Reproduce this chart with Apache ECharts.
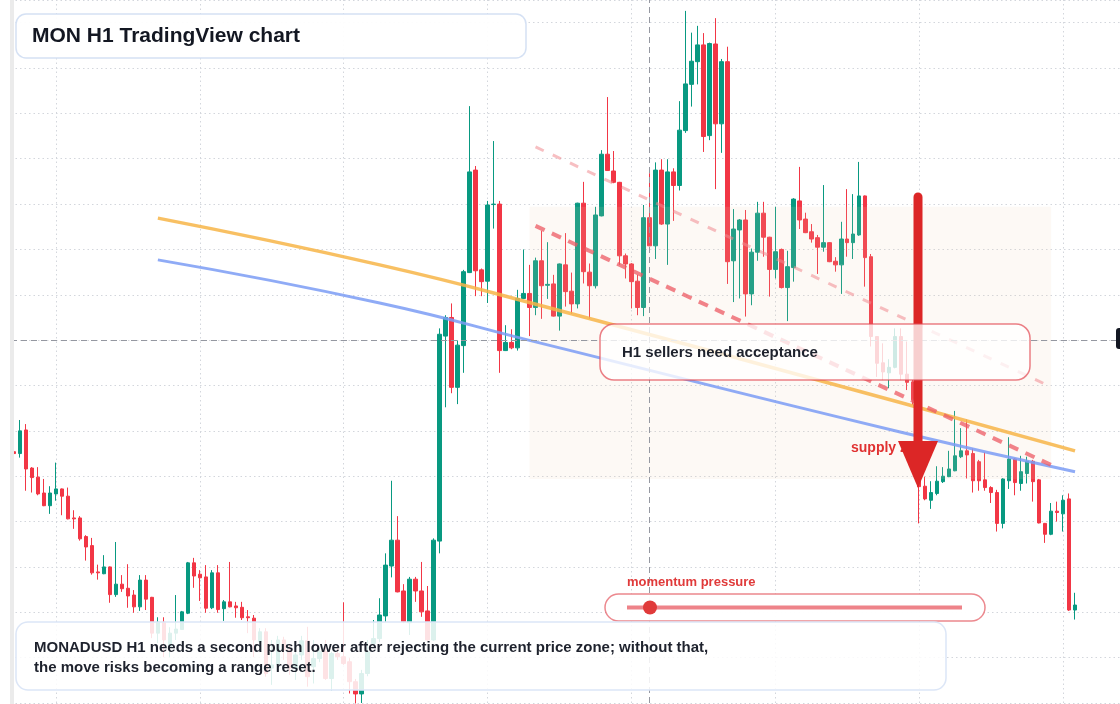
<!DOCTYPE html>
<html>
<head>
<meta charset="utf-8">
<title>MON H1 TradingView chart</title>
<script src="https://cdn.jsdelivr.net/npm/echarts@6/dist/echarts.min.js"></script>
<style>
html, body { margin: 0; padding: 0; background: #fff; }
#main { width: 1120px; height: 704px; }
</style>
</head>
<body>
<div id="main"></div>
<script>
// MONADUSD H1 candles (price in USD)
var opens = [
  0.02754, 0.02750, 0.02802, 0.02718, 0.02698, 0.02663, 0.02635, 0.02661, 0.02672, 0.02656,
  0.02608, 0.02608, 0.02567, 0.02547, 0.02489, 0.02485, 0.02500, 0.02439, 0.02462, 0.02453,
  0.02438, 0.02412, 0.02471, 0.02433, 0.02354, 0.02378, 0.02323, 0.02354, 0.02362, 0.02398,
  0.02509, 0.02484, 0.02478, 0.02410, 0.02487, 0.02408, 0.02423, 0.02414, 0.02411, 0.02390,
  0.02387, 0.02335, 0.02357, 0.02277, 0.02284, 0.02339, 0.02317, 0.02277, 0.02306, 0.02337,
  0.02280, 0.02298, 0.02313, 0.02254, 0.02309, 0.02302, 0.02291, 0.02247, 0.02220, 0.02265,
  0.02331, 0.02342, 0.02392, 0.02502, 0.02559, 0.02447, 0.02377, 0.02473, 0.02447, 0.02403,
  0.02339, 0.02557, 0.03009, 0.03050, 0.02896, 0.02988, 0.03149, 0.03375, 0.03155, 0.03130,
  0.03299, 0.03300, 0.02977, 0.02995, 0.02983, 0.03092, 0.03103, 0.03072, 0.03175, 0.03121,
  0.03124, 0.03053, 0.03166, 0.03108, 0.03080, 0.03302, 0.03150, 0.03120, 0.03274, 0.03410,
  0.03373, 0.03348, 0.03186, 0.03168, 0.03130, 0.03072, 0.03270, 0.03208, 0.03375, 0.03256,
  0.03371, 0.03341, 0.03462, 0.03564, 0.03614, 0.03651, 0.03451, 0.03653, 0.03477, 0.03614,
  0.03175, 0.03243, 0.03265, 0.03102, 0.03194, 0.03280, 0.03227, 0.03156, 0.03200, 0.03116,
  0.03160, 0.03307, 0.03267, 0.03239, 0.03226, 0.03205, 0.03215, 0.03174, 0.03166, 0.03223,
  0.03215, 0.03232, 0.03318, 0.03184, 0.03008, 0.02950, 0.02928, 0.02940, 0.03008, 0.02925,
  0.02908, 0.02868, 0.02678, 0.02647, 0.02662, 0.02688, 0.02699, 0.02712, 0.02743, 0.02756,
  0.02750, 0.02732, 0.02692, 0.02675, 0.02664, 0.02596, 0.02690, 0.02738, 0.02684, 0.02706,
  0.02733, 0.02692, 0.02596, 0.02572, 0.02623, 0.02617, 0.02650, 0.02405
];
var closes = [
  0.02750, 0.02800, 0.02716, 0.02697, 0.02661, 0.02635, 0.02663, 0.02672, 0.02656, 0.02606,
  0.02606, 0.02562, 0.02544, 0.02487, 0.02487, 0.02500, 0.02439, 0.02462, 0.02452, 0.02436,
  0.02412, 0.02471, 0.02429, 0.02354, 0.02378, 0.02339, 0.02354, 0.02363, 0.02401, 0.02509,
  0.02480, 0.02476, 0.02409, 0.02487, 0.02406, 0.02423, 0.02412, 0.02410, 0.02388, 0.02388,
  0.02339, 0.02357, 0.02265, 0.02284, 0.02339, 0.02317, 0.02277, 0.02306, 0.02337, 0.02258,
  0.02298, 0.02313, 0.02254, 0.02309, 0.02302, 0.02287, 0.02247, 0.02220, 0.02265, 0.02313,
  0.02342, 0.02394, 0.02504, 0.02559, 0.02445, 0.02379, 0.02473, 0.02447, 0.02401, 0.02339,
  0.02559, 0.03013, 0.03050, 0.02896, 0.02989, 0.03151, 0.03371, 0.03153, 0.03129, 0.03298,
  0.03300, 0.02977, 0.02995, 0.02983, 0.03092, 0.03103, 0.03072, 0.03175, 0.03120, 0.03123,
  0.03053, 0.03168, 0.03107, 0.03080, 0.03302, 0.03151, 0.03120, 0.03276, 0.03410, 0.03374,
  0.03348, 0.03186, 0.03168, 0.03129, 0.03072, 0.03270, 0.03208, 0.03375, 0.03256, 0.03371,
  0.03341, 0.03463, 0.03565, 0.03615, 0.03651, 0.03449, 0.03654, 0.03477, 0.03614, 0.03173,
  0.03245, 0.03265, 0.03102, 0.03194, 0.03280, 0.03227, 0.03156, 0.03195, 0.03116, 0.03162,
  0.03311, 0.03265, 0.03237, 0.03223, 0.03205, 0.03215, 0.03173, 0.03166, 0.03223, 0.03215,
  0.03234, 0.03318, 0.03182, 0.03008, 0.02949, 0.02930, 0.02940, 0.03008, 0.02925, 0.02907,
  0.02868, 0.02677, 0.02650, 0.02664, 0.02689, 0.02700, 0.02716, 0.02745, 0.02756, 0.02747,
  0.02690, 0.02690, 0.02675, 0.02664, 0.02596, 0.02694, 0.02738, 0.02686, 0.02710, 0.02733,
  0.02688, 0.02597, 0.02572, 0.02623, 0.02620, 0.02647, 0.02405, 0.02416
];
var lows = [
  0.02749, 0.02741, 0.02668, 0.02664, 0.02658, 0.02634, 0.02617, 0.02646, 0.02614, 0.02605,
  0.02584, 0.02558, 0.02514, 0.02483, 0.02472, 0.02484, 0.02421, 0.02434, 0.02445, 0.02410,
  0.02399, 0.02403, 0.02405, 0.02343, 0.02332, 0.02301, 0.02301, 0.02339, 0.02361, 0.02396,
  0.02454, 0.02425, 0.02399, 0.02407, 0.02399, 0.02381, 0.02411, 0.02388, 0.02383, 0.02354,
  0.02301, 0.02321, 0.02258, 0.02240, 0.02277, 0.02295, 0.02262, 0.02251, 0.02295, 0.02236,
  0.02243, 0.02290, 0.02251, 0.02228, 0.02295, 0.02284, 0.02221, 0.02199, 0.02200, 0.02259,
  0.02321, 0.02334, 0.02379, 0.02477, 0.02444, 0.02376, 0.02350, 0.02423, 0.02390, 0.02337,
  0.02337, 0.02530, 0.02852, 0.02883, 0.02859, 0.02928, 0.03148, 0.03097, 0.03097, 0.03082,
  0.03246, 0.02928, 0.02976, 0.02980, 0.02977, 0.03091, 0.03009, 0.03055, 0.03047, 0.03091,
  0.03052, 0.03021, 0.03074, 0.03058, 0.03070, 0.03125, 0.03047, 0.03114, 0.03273, 0.03373,
  0.03346, 0.03166, 0.03136, 0.03070, 0.03055, 0.03053, 0.03207, 0.03179, 0.03254, 0.03166,
  0.03263, 0.03330, 0.03457, 0.03515, 0.03564, 0.03415, 0.03441, 0.03333, 0.03413, 0.03124,
  0.03084, 0.03092, 0.03052, 0.03077, 0.03175, 0.03184, 0.03096, 0.03136, 0.03114, 0.03042,
  0.03129, 0.03245, 0.03236, 0.03215, 0.03146, 0.03195, 0.03172, 0.03151, 0.03102, 0.03184,
  0.03179, 0.03230, 0.03118, 0.02986, 0.02919, 0.02912, 0.02894, 0.02938, 0.02912, 0.02890,
  0.02857, 0.02596, 0.02647, 0.02628, 0.02658, 0.02685, 0.02698, 0.02711, 0.02740, 0.02695,
  0.02664, 0.02668, 0.02668, 0.02641, 0.02578, 0.02585, 0.02672, 0.02658, 0.02668, 0.02684,
  0.02644, 0.02596, 0.02553, 0.02570, 0.02600, 0.02578, 0.02403, 0.02384
];
var highs = [
  0.02755, 0.02824, 0.02815, 0.02720, 0.02720, 0.02694, 0.02678, 0.02730, 0.02673, 0.02675,
  0.02625, 0.02612, 0.02570, 0.02564, 0.02505, 0.02526, 0.02501, 0.02555, 0.02482, 0.02506,
  0.02449, 0.02482, 0.02482, 0.02434, 0.02389, 0.02389, 0.02367, 0.02438, 0.02403, 0.02511,
  0.02520, 0.02493, 0.02504, 0.02493, 0.02504, 0.02427, 0.02511, 0.02423, 0.02423, 0.02405,
  0.02394, 0.02365, 0.02365, 0.02339, 0.02348, 0.02346, 0.02328, 0.02321, 0.02348, 0.02368,
  0.02339, 0.02321, 0.02339, 0.02313, 0.02321, 0.02422, 0.02299, 0.02253, 0.02273, 0.02339,
  0.02383, 0.02431, 0.02530, 0.02690, 0.02612, 0.02462, 0.02478, 0.02478, 0.02511, 0.02458,
  0.02563, 0.03026, 0.03055, 0.03081, 0.02999, 0.03155, 0.03516, 0.03384, 0.03158, 0.03307,
  0.03439, 0.03307, 0.03033, 0.03024, 0.03111, 0.03200, 0.03166, 0.03182, 0.03241, 0.03216,
  0.03144, 0.03169, 0.03236, 0.03149, 0.03303, 0.03349, 0.03169, 0.03294, 0.03419, 0.03536,
  0.03417, 0.03349, 0.03191, 0.03170, 0.03144, 0.03298, 0.03368, 0.03392, 0.03399, 0.03399,
  0.03379, 0.03527, 0.03726, 0.03678, 0.03693, 0.03677, 0.03656, 0.03710, 0.03620, 0.03647,
  0.03289, 0.03267, 0.03287, 0.03202, 0.03305, 0.03305, 0.03228, 0.03294, 0.03202, 0.03197,
  0.03313, 0.03382, 0.03281, 0.03256, 0.03232, 0.03342, 0.03216, 0.03183, 0.03261, 0.03333,
  0.03322, 0.03393, 0.03319, 0.03190, 0.03009, 0.02993, 0.02958, 0.03026, 0.03026, 0.02997,
  0.02912, 0.02872, 0.02699, 0.02689, 0.02722, 0.02720, 0.02756, 0.02844, 0.02806, 0.02825,
  0.02761, 0.02736, 0.02753, 0.02678, 0.02670, 0.02696, 0.02786, 0.02740, 0.02745, 0.02743,
  0.02736, 0.02694, 0.02597, 0.02641, 0.02644, 0.02658, 0.02662, 0.02443
];

// two curved guide lines and two dashed channel lines: [candle index, price]
var orangeCurve = [[24, 0.03269], [61, 0.03166], [88, 0.03076], [148, 0.02862], [177, 0.02756]];
var blueCurve = [[24, 0.03177], [61, 0.03082], [88, 0.02993], [148, 0.02797], [177, 0.02710]];
var channelUpper = [[87, 0.03426], [173, 0.02897]];
var channelLower = [[87, 0.03252], [173, 0.02725]];

// supply zone box, crosshair, last price, day separators
var supplyZone = { from: 86, to: 173, top: 0.03294, bottom: 0.02694 };
var crossPrice = 0.03008;
var crossIndex = 106;
var lastPrice = 0.02416;
var dayStarts = [7, 31, 55, 79, 103, 127, 151, 175];

var slotCount = 185; // candles plus empty space on the right
var hours = [];
for (var i = 0; i < slotCount; i++) hours.push(String(i));

var candles = opens.map(function (o, i) { return [o, closes[i], lows[i], highs[i]]; });

var FONT = "'Liberation Sans', Arial, sans-serif";
var UP = '#089981', DOWN = '#f23645';
var GRID = { color: '#d3d6dc', type: [1.5, 3], width: 1 };

var chart = echarts.init(document.getElementById('main'), null, { renderer: 'canvas' });

var option = {
  animation: false,
  backgroundColor: '#ffffff',
  grid: { left: 11, right: 0, top: 0, bottom: 1 },
  xAxis: {
    type: 'category',
    data: hours,
    boundaryGap: true,
    axisLine: { show: false },
    axisTick: { show: false },
    axisLabel: { show: false },
    splitLine: { show: false }
  },
  yAxis: {
    type: 'value',
    min: 0.022,
    max: 0.0375,
    interval: 0.001,
    axisLine: { show: false },
    axisTick: { show: false },
    axisLabel: { show: false },
    splitLine: { show: true, lineStyle: GRID }
  },
  series: [
    {
      // vertical day grid lines, kept under the candles
      type: 'line', data: [], z: 0, silent: true,
      markLine: {
        z: 0, silent: true, symbol: 'none', label: { show: false },
        lineStyle: GRID,
        data: dayStarts.map(function (d) { return { xAxis: d }; })
      }
    },
    {
      name: 'MONADUSD',
      type: 'candlestick',
      data: candles,
      z: 2,
      clip: true,
      barWidth: 4,
      itemStyle: {
        color: UP, color0: DOWN,
        borderColor: UP, borderColor0: DOWN,
        borderWidth: 1
      }
    },
    {
      // supply zone tint, laid over the candles
      type: 'line', data: [], z: 3, silent: true,
      markArea: {
        z: 3, silent: true,
        itemStyle: { color: 'rgba(240,205,175,0.13)' },
        data: [[
          { xAxis: supplyZone.from, yAxis: supplyZone.top },
          { xAxis: supplyZone.to, yAxis: supplyZone.bottom }
        ]]
      }
    },
    {
      name: 'orange', type: 'line', data: orangeCurve, smooth: true, z: 4,
      symbol: 'none', silent: true,
      lineStyle: { color: '#f7b548', width: 3.5, opacity: 0.85 }
    },
    {
      name: 'blue', type: 'line', data: blueCurve, smooth: true, z: 4,
      symbol: 'none', silent: true,
      lineStyle: { color: '#7b9cf4', width: 3, opacity: 0.85 }
    },
    {
      name: 'channel upper', type: 'line', data: channelUpper, z: 4,
      symbol: 'none', silent: true,
      lineStyle: { color: '#f08a90', width: 3, type: [9, 10], opacity: 0.55 }
    },
    {
      name: 'channel lower', type: 'line', data: channelLower, z: 4,
      symbol: 'none', silent: true,
      lineStyle: { color: '#ec5a63', width: 4, type: [10, 8], opacity: 0.75 }
    },
    {
      // crosshair and last price line
      type: 'line', data: [], z: 5, silent: true,
      markLine: {
        z: 5, silent: true, symbol: 'none', label: { show: false },
        data: [
          { yAxis: crossPrice, lineStyle: { color: '#9598a1', type: [6, 4], width: 1 } },
          { xAxis: crossIndex, lineStyle: { color: '#9598a1', type: [6, 4], width: 1 } },
          { yAxis: lastPrice, lineStyle: { color: UP, type: [1.5, 2.5], width: 1 } }
        ]
      }
    }
  ],
  graphic: [
    // left edge strip
    { type: 'rect', z: 90, silent: true, shape: { x: 10, y: 0, width: 4, height: 704 }, style: { fill: '#ebebeb' } },
    // price label stub on the right edge
    { type: 'rect', z: 90, silent: true, shape: { x: 1116, y: 328, width: 10, height: 21, r: [3, 0, 0, 3] }, style: { fill: '#131722' } },
    // title
    { type: 'rect', z: 100, silent: true, shape: { x: 16, y: 14, width: 510, height: 44, r: 10 },
      style: { fill: 'rgba(255,255,255,0.94)', stroke: '#d5e1f4', lineWidth: 1.5 } },
    { type: 'text', z: 101, silent: true, x: 32, y: 36,
      style: { text: 'MON H1 TradingView chart', fill: '#131722', font: 'bold 21px ' + FONT, verticalAlign: 'middle' } },
    // supply zone label (under the arrow head)
    { type: 'text', z: 95, silent: true, x: 851, y: 448,
      style: { text: 'supply zone', fill: '#e03131', font: 'bold 14px ' + FONT, verticalAlign: 'middle' } },
    // arrow
    { type: 'line', z: 96, silent: true, shape: { x1: 918, y1: 197, x2: 918, y2: 446 },
      style: { stroke: '#dc2626', lineWidth: 9, lineCap: 'round' } },
    { type: 'polygon', z: 97, silent: true, shape: { points: [[898, 441], [938, 441], [918, 488]] },
      style: { fill: '#dc2626' } },
    // callout
    { type: 'rect', z: 100, silent: true, shape: { x: 600, y: 324, width: 430, height: 56, r: 14 },
      style: { fill: 'rgba(255,255,255,0.78)', stroke: 'rgba(226,72,82,0.7)', lineWidth: 1.5 } },
    { type: 'text', z: 101, silent: true, x: 622, y: 353,
      style: { text: 'H1 sellers need acceptance', fill: '#1e222d', font: 'bold 15px ' + FONT, verticalAlign: 'middle' } },
    // momentum gauge
    { type: 'text', z: 101, silent: true, x: 627, y: 582,
      style: { text: 'momentum pressure', fill: '#e03a3a', font: 'bold 13px ' + FONT, verticalAlign: 'middle' } },
    { type: 'rect', z: 100, silent: true, shape: { x: 605, y: 594, width: 380, height: 27, r: 13.5 },
      style: { fill: 'rgba(255,255,255,0.96)', stroke: 'rgba(226,72,82,0.65)', lineWidth: 1.5 } },
    { type: 'line', z: 101, silent: true, shape: { x1: 627, y1: 607.5, x2: 962, y2: 607.5 },
      style: { stroke: 'rgba(232,90,98,0.75)', lineWidth: 4 } },
    { type: 'circle', z: 102, silent: true, shape: { cx: 650, cy: 607.5, r: 7 }, style: { fill: '#e03a3a' } },
    // bottom note
    { type: 'rect', z: 100, silent: true, shape: { x: 16, y: 622, width: 930, height: 68, r: 12 },
      style: { fill: 'rgba(255,255,255,0.86)', stroke: '#dce6f7', lineWidth: 1.5 } },
    { type: 'text', z: 101, silent: true, x: 34, y: 648,
      style: { text: 'MONADUSD H1 needs a second push lower after rejecting the current price zone; without that,',
        fill: '#1e222d', font: 'bold 15px ' + FONT, verticalAlign: 'middle' } },
    { type: 'text', z: 101, silent: true, x: 34, y: 668,
      style: { text: 'the move risks becoming a range reset.', fill: '#1e222d', font: 'bold 15px ' + FONT, verticalAlign: 'middle' } }
  ]
};

chart.setOption(option);
</script>
</body>
</html>
